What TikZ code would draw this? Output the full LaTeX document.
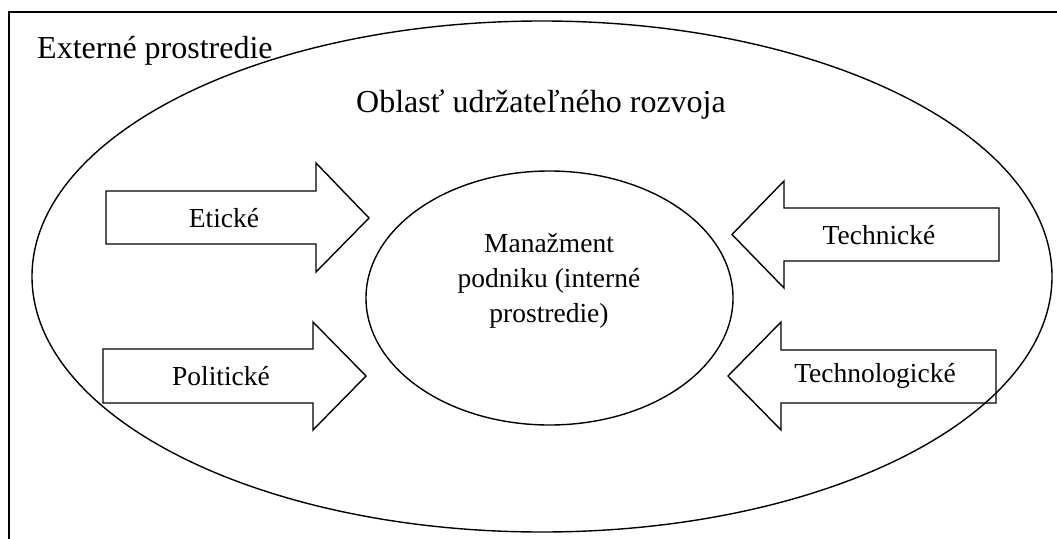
\documentclass[tikz,border=0pt]{standalone}
\usepackage{fontspec}
\setmainfont{Liberation Serif}
\begin{document}
\begin{tikzpicture}[x=1pt,y=-1pt,
  frame/.style={line width=1.7pt},
  shapeline/.style={line width=1.4pt, line join=miter},
  bigtext/.style={font=\fontsize{32}{36}\selectfont, inner sep=0pt},
  midtext/.style={font=\fontsize{27.5}{35}\selectfont, inner sep=0pt, align=center}]
  \useasboundingbox (0,0) rectangle (1057,538);

  % open frame around the whole scheme
  \draw[frame] (9,540) -- (9,12) -- (1060,12);

  % sustainable development area and the company itself
  \draw[shapeline] (542,276.5) ellipse [x radius=510, y radius=255.5];
  \draw[shapeline] (549.5,298) ellipse [x radius=183.5, y radius=127];

  % arrows pointing inwards from the left
  \draw[shapeline] (106,191) -- (316,191) -- (316,163) -- (369,218)
    -- (316,272) -- (316,244) -- (106,244) -- cycle;
  \draw[shapeline] (103,349) -- (313,349) -- (313,322) -- (366,376)
    -- (313,430) -- (313,403) -- (103,403) -- cycle;

  % arrows pointing inwards from the right
  \draw[shapeline] (999,208) -- (784,208) -- (784,181) -- (732,234.5)
    -- (784,288) -- (784,261) -- (999,261) -- cycle;
  \draw[shapeline] (996,350) -- (781,350) -- (781,322) -- (728,376)
    -- (781,430) -- (781,403) -- (996,403) -- cycle;

  % labels
  \node[bigtext, anchor=base west] (ext) at (37,58) {Externé prostredie};
  \node[bigtext, anchor=base] (area) at (541,112) {Oblasť udržateľného rozvoja};
  \node[midtext] (mgmt) at (549,281) {Manažment\\podniku (interné\\prostredie)};
  \node[midtext] (eth) at (224,218) {Etické};
  \node[midtext] (pol) at (221,376) {Politické};
  \node[midtext] (tech) at (879,235) {Technické};
  \node[midtext] (tgy) at (875,376) {Technologické};
\end{tikzpicture}
\end{document}
